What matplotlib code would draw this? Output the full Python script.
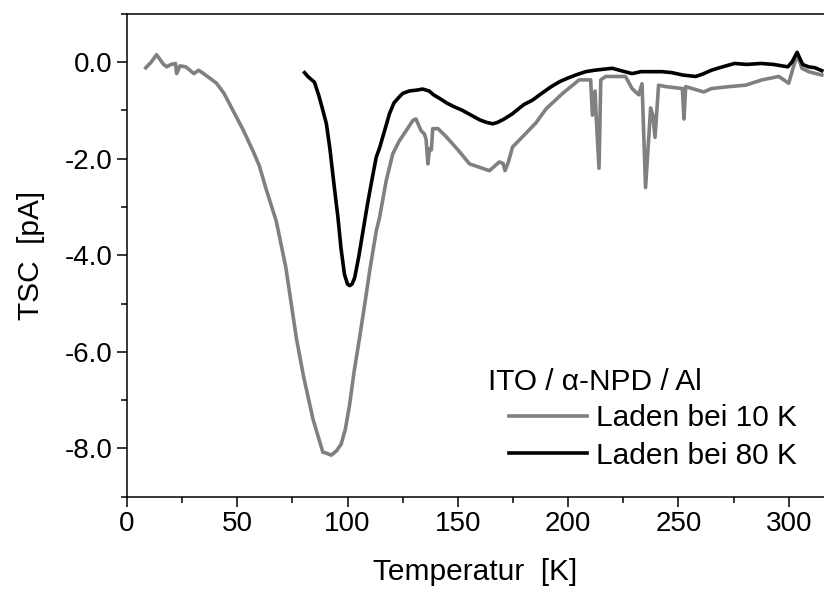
import matplotlib
matplotlib.use("Agg")
import matplotlib.pyplot as plt
from matplotlib.ticker import MultipleLocator, FormatStrFormatter

plt.rcParams['font.family'] = ['Liberation Sans', 'DejaVu Sans']

# TSC after charging at 10 K (grey)
t10 = [8.5, 11, 13.4, 15, 16.4, 18, 20, 22, 22.5, 24, 26.6, 28, 30.3, 32.5, 35, 38,
       40.6, 44, 48, 52.6, 57.2, 60, 63.2, 67.7, 72, 76.8, 80, 84.3, 88.8,
       90.5, 92.6, 95, 97.1, 99, 100.9, 103, 105.4, 108, 110, 113, 114.5, 117.5,
       120.5, 123.5, 126.6, 129.6, 131, 133.3, 134.8, 135.6, 136.4, 137.2, 138,
       138.6, 141, 144.8, 150.8, 155.3, 159.8, 164.3, 168.8, 170.5, 171.4, 172.9,
       174.8, 179.3, 185.4, 190, 197.5, 205, 210.2, 211, 212.2, 212.8, 214, 214.8,
       217, 226, 229, 232, 233.5, 235.1, 237.4, 238.4, 239.4, 241, 244.3, 251.8,
       252.5, 253.3, 261.5, 265, 272.8, 280.4, 287.9, 295.5, 300, 301.5, 303.8,
       306, 309, 315]
i10 = [-0.12, 0.0, 0.15, 0.05, -0.04, -0.1, -0.05, -0.03, -0.24, -0.08, -0.1, -0.15,
       -0.24, -0.17, -0.25, -0.35, -0.44, -0.65, -1.0, -1.4, -1.85, -2.15, -2.65,
       -3.3, -4.25, -5.72, -6.5, -7.39, -8.08, -8.1, -8.14, -8.05, -7.91,
       -7.6, -7.1, -6.4, -5.72, -4.95, -4.33, -3.5, -3.22, -2.46, -1.9, -1.63,
       -1.42, -1.21, -1.18, -1.42, -1.49, -1.6, -2.11, -1.79, -1.82, -1.38, -1.38,
       -1.55, -1.86, -2.11, -2.18, -2.25, -2.07, -2.1, -2.25, -2.07, -1.76, -1.55,
       -1.26, -0.97, -0.65, -0.37, -0.37, -1.1, -0.6, -1.2, -2.2, -0.37, -0.3,
       -0.3, -0.55, -0.68, -0.45, -2.6, -0.95, -1.1, -1.56, -0.48, -0.51, -0.55,
       -1.18, -0.51, -0.62, -0.55, -0.51, -0.48, -0.37, -0.3, -0.44, -0.2, 0.15,
       -0.13, -0.2, -0.27]

# TSC after charging at 80 K (black)
t80 = [80.5, 82, 84, 85, 87, 88.5, 90.4, 92, 93.5, 94.9, 95.6, 97, 98.6, 100, 100.9,
       102, 103.2, 105, 107, 109, 111, 113, 114.5, 117.5, 119, 121, 123.5, 125,
       128, 131.6, 134, 137, 139, 141.6, 145, 148, 152, 156, 160, 163, 165.8, 168,
       171, 174.8, 178, 180, 183.8, 188, 192, 196, 200, 204, 208, 212, 216, 220,
       224, 229, 233, 237, 242.6, 247, 252, 257.8, 261, 265, 270, 275.5, 281,
       287.5, 293, 299.6, 301.5, 303.8, 306.3, 309, 312, 315]
i80 = [-0.22, -0.3, -0.38, -0.42, -0.7, -0.95, -1.28, -1.8, -2.4, -2.94, -3.2, -3.85,
       -4.4, -4.6, -4.63, -4.6, -4.47, -4.05, -3.5, -2.95, -2.45, -1.97, -1.78,
       -1.31, -1.07, -0.85, -0.72, -0.65, -0.6, -0.58, -0.56, -0.6, -0.68, -0.75,
       -0.85, -0.92, -1.0, -1.1, -1.2, -1.25, -1.28, -1.25, -1.18, -1.07, -0.95,
       -0.88, -0.79, -0.65, -0.52, -0.41, -0.33, -0.26, -0.2, -0.17, -0.15, -0.13,
       -0.18, -0.24, -0.2, -0.2, -0.2, -0.22, -0.27, -0.3, -0.25, -0.17, -0.1,
       -0.03, -0.05, -0.03, -0.05, -0.1, 0.0, 0.2, -0.05, -0.1, -0.12, -0.18]

fig = plt.figure(figsize=(8.24, 5.89), dpi=100)
ax = fig.add_axes([127/824, (589-496.7)/589, 697/824, (496.7-13.7)/589])

l1, = ax.plot(t10, i10, color='#808080', lw=2.6, label='Laden bei 10 K')
l2, = ax.plot(t80, i80, color='black', lw=2.6, label='Laden bei 80 K')

ax.set_xlim(0, 316)
ax.set_ylim(-9, 1)
ax.xaxis.set_major_locator(MultipleLocator(50))
ax.xaxis.set_minor_locator(MultipleLocator(25))
ax.yaxis.set_major_locator(MultipleLocator(2))
ax.yaxis.set_minor_locator(MultipleLocator(1))
ax.yaxis.set_major_formatter(FormatStrFormatter('%.1f'))
ax.tick_params(which='both', direction='out', width=1.1, labelsize=20)
ax.tick_params(which='major', length=7)
ax.tick_params(which='minor', length=4.5)
ax.spines['right'].set_visible(False)
for s in ['left', 'bottom', 'top']:
    ax.spines[s].set_linewidth(1.1)

ax.set_xlabel('Temperatur  [K]', fontsize=21.5, labelpad=15)
ax.set_ylabel('TSC  [pA]', fontsize=21.5, labelpad=14)

fig.text(488/824, 1 - 382/589, 'ITO / α-NPD / Al', fontsize=21.5, va='center', ha='left')
ax.legend(handles=[l1, l2], loc='upper left', bbox_to_anchor=(509/824, 1 - 404/589),
          bbox_transform=fig.transFigure, frameon=False, fontsize=21.5,
          handlelength=2.6, handletextpad=0.3, labelspacing=0.32, borderpad=0,
          borderaxespad=0)

fig.savefig('out.png', dpi=100)
